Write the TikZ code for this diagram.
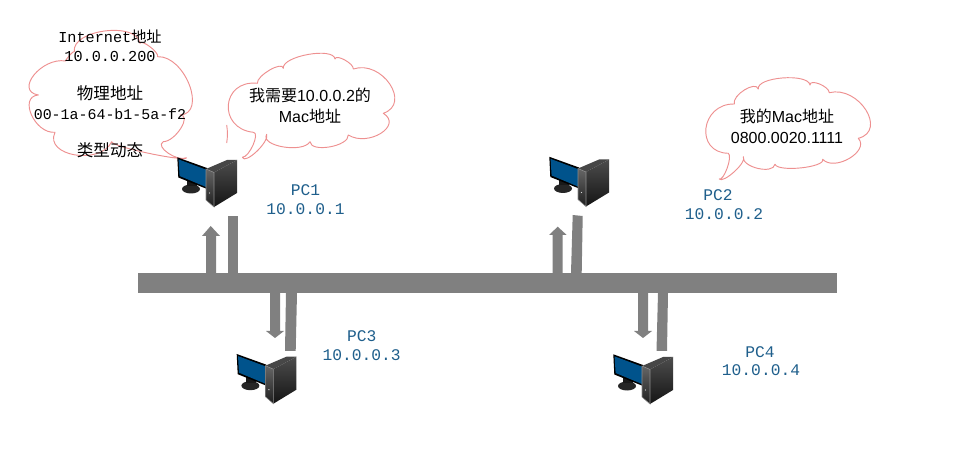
\documentclass[tikz,border=0pt]{standalone}
\usepackage{fontspec}
\usetikzlibrary{calc}
\setmainfont{Liberation Sans}
\newfontfamily\cjk{Noto Sans CJK SC}
\newfontfamily\mono{Liberation Mono}
\newcommand{\zh}[1]{{\cjk #1}}
\definecolor{netgrey}{HTML}{808080}
\definecolor{cloudpink}{HTML}{EE9090}
\definecolor{labelblue}{HTML}{1F5F8C}
\definecolor{screenblue}{HTML}{00538C}
\tikzset{
  cloudline/.style={draw=cloudpink,line width=0.7pt,line join=round},
  lump/.style={to path={.. controls ($0.333*(\tikztostart)+1.333*(#1)-0.667*(\tikztotarget)$) and ($0.333*(\tikztotarget)+1.333*(#1)-0.667*(\tikztostart)$) .. (\tikztotarget)}},
  netbar/.style={fill=netgrey,draw=none},
  pclabel/.style={text=labelblue,font=\mono\fontsize{12.2}{14}\selectfont,inner sep=0pt,anchor=center},
  blacktext/.style={text=black,font=\mono\fontsize{11.4}{14}\selectfont,inner sep=0pt,anchor=center},
  saytext/.style={text=black,font=\fontsize{12}{14}\selectfont,inner sep=0pt,anchor=center},
  zhtext/.style={text=black,font=\cjk\fontsize{12.4}{14}\selectfont,inner sep=0pt,anchor=center},
  pics/pcicon/.style={code={
    % stand
    \fill[black!85] (21,39) ellipse (9 and 4.5);
    \fill[black!90] (17,28) rectangle (27,36);
    % monitor
    \fill[black] (7.3,7.3) -- (37,18) -- (37,39) -- (8.3,27.5) -- cycle;
    \fill[screenblue] (8.6,9.4) -- (36,19.6) -- (36,37) -- (9.6,26) -- cycle;
    % tower
    \fill[black!72] (36,19) -- (57,10) -- (67,10) -- (44,22.5) -- cycle;
    \shade[top color=black!70,bottom color=black!92] (44,22.5) -- (67,10) -- (67,43) -- (44,57) -- cycle;
    \shade[top color=black!60,bottom color=black!88] (36,19) -- (44,22.5) -- (44,57) -- (36,50) -- cycle;
    \draw[black!45,line width=0.4pt] (36,19) -- (44,22.5) -- (44,57) -- (36,50) -- cycle;
    \fill[black!15] (39.5,43) circle (0.7);
  }}
}
\begin{document}
\begin{tikzpicture}[x=0.75pt,y=-0.75pt]
\useasboundingbox[fill=white] (0,0) rectangle (957,452);

% clouds
\draw[cloudline] (186.7,157.7)
  to[lump={168.3,153.3}] (163.3,141.7)
  to[lump={181,128.3}] (180,115)
  to[lump={189.5,85}] (157.7,56.7)
  to[lump={150,46.7}] (140,43.3)
  to[lump={105,31}] (74.3,51.7)
  to[lump={70,55}] (65.7,61)
  to[lump={34,75}] (38.3,95)
  to[lump={31.5,115}] (55,132.3)
  to[lump={75,155}] (111.7,141.7)
  to[lump={148.3,153.3}] (186.7,157.7);
\draw[cloudline] (242.3,157.3)
  to[lump={253.3,145}] (253.3,132.3)
  to[lump={228.5,105}] (257.3,83.3)
  to[lump={270,70}] (283.3,68.3)
  to[lump={308.3,54.5}] (335,59)
  to[lump={345,60}] (353.3,69)
  to[lump={390,84}] (383.3,113.3)
  to[lump={381,133.5}] (348.3,135)
  to[lump={330,147}] (310,141.7)
  to[lump={283.3,147}] (266.7,134.3)
  to[lump={256.7,151.7}] (242.3,157.3);
\draw[cloudline] (226.7,125) to[bend left=8] (226.7,143);
\draw[cloudline] (719,179)
  to[lump={727.7,168.3}] (728.3,153.3)
  to[lump={706.5,128.3}] (734.3,104)
  to[lump={745,90}] (758.3,89)
  to[lump={783.3,78}] (810,85)
  to[lump={820,84}] (829.3,92.7)
  to[lump={866.5,110}] (858.3,138.3)
  to[lump={850,158.5}] (822.7,159.3)
  to[lump={801.7,168}] (775,164.3)
  to[lump={758.3,168.5}] (743.3,156.7)
  to[lump={735,171.7}] (719,179);

% bus
\fill[netbar] (138,273) rectangle (837,293);

% PC1 links
\fill[netbar] (206,273) -- (206,236) -- (202,236) -- (210.7,226) -- (220,236) -- (216,236) -- (216,273) -- cycle;
\fill[netbar] (228,216) rectangle (238,273);
% PC2 links
\fill[netbar] (552.7,273) -- (552.7,235) -- (549,235) -- (557.7,226.7) -- (566.7,235) -- (562.7,235) -- (562.7,273) -- cycle;
\fill[netbar] (572.7,215) -- (582.7,216) -- (581.7,273) -- (571,273) -- cycle;
% PC3 links
\fill[netbar] (270,293) -- (270,331) -- (266,331) -- (275,338) -- (284,331) -- (280,331) -- (280,293) -- cycle;
\fill[netbar] (286,293) -- (297,293) -- (295.7,351) -- (285,351) -- cycle;
% PC4 links
\fill[netbar] (638,293) -- (638,331) -- (634,331) -- (643,338) -- (652,331) -- (648,331) -- (648,293) -- cycle;
\fill[netbar] (658,293) -- (668,293) -- (667,351) -- (656.5,351) -- cycle;

% computers
\pic at (170,150) {pcicon};
\pic at (542,149.5) {pcicon};
\pic at (229.4,346.7) {pcicon};
\pic at (606,347) {pcicon};

% cloud texts
\node[blacktext] (ip) at (110,37) {Internet\zh{地址}};
\node[blacktext] (ipv) at (110,56) {10.0.0.200};
\node[zhtext] (phy) at (110,93) {物理地址};
\node[blacktext,font=\mono\fontsize{11.2}{14}\selectfont] (mac) at (110,114) {00-1a-64-b1-5a-f2};
\node[zhtext] (kind) at (110,150) {类型动态};
\node[saytext] (need) at (310,95) {\zh{我需要}10.0.0.2\zh{的}};
\node[saytext] (needb) at (310,116) {Mac\zh{地址}};
\node[saytext] (my) at (787,116) {\zh{我的}Mac\zh{地址}};
\node[saytext] (myv) at (787,138) {0800.0020.1111};

% PC labels
\node[pclabel] (pc1) at (305.5,190) {PC1};
\node[pclabel] (ip1) at (305.5,209) {10.0.0.1};
\node[pclabel] (pc2) at (718,195) {PC2};
\node[pclabel] (ip2) at (724,214) {10.0.0.2};
\node[pclabel] (pc3) at (361.7,336.5) {PC3};
\node[pclabel] (ip3) at (361.7,355) {10.0.0.3};
\node[pclabel] (pc4) at (760,352) {PC4};
\node[pclabel] (ip4) at (761,370) {10.0.0.4};
\end{tikzpicture}
\end{document}
